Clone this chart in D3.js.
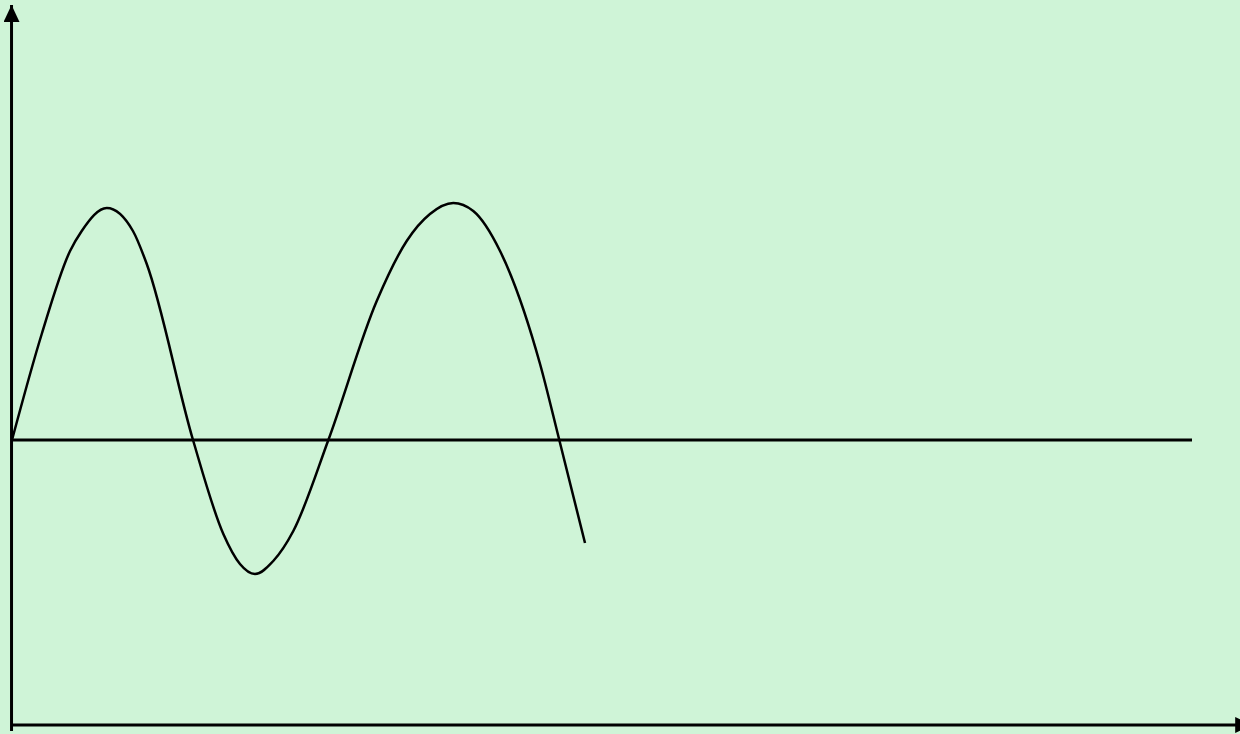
<!DOCTYPE html>
<html>
<head>
<meta charset="utf-8">
<script src="https://cdn.jsdelivr.net/npm/d3@7"></script>
<style>
  html, body { margin: 0; padding: 0; background: #cff4d7; }
  svg { display: block; }
</style>
</head>
<body>
<div id="chart"></div>
<script>
// curve samples (x along the baseline, y above/below it)
const waveX = [0, 2.52, 4.92, 5.91, 8.03, 10.25, 11.42, 15.34, 17.91, 19.32, 20.59, 22.14, 23.84, 26.81,
  30.91, 33.45, 35.42, 37.40, 39.09, 41.36, 44.75, 46.38, 48.56];
const waveY = [0, 1.06, 1.89, 2.09, 2.32, 2.09, 1.76, 0, -0.94, -1.24, -1.34, -1.21, -0.91, 0,
  1.39, 1.99, 2.26, 2.37, 2.29, 1.89, 0.76, 0, -1.03];

// extents of the axes and the zero line
const baselineX = [0, 100];
const xAxisExtent = [-0.04, 105.1];
const yAxisExtent = [-2.91, 4.35];

const width = 1240, height = 734;

let svg = d3.select('#chart').append('svg')
  .attr('width', width)
  .attr('height', height);

svg.append('rect')
  .attr('width', width)
  .attr('height', height)
  .attr('fill', '#cff4d7');

let x = d3.scaleLinear().domain([0, 100]).range([12, 1192]);
let y = d3.scaleLinear().domain([-2.85, 4.35]).range([725, 5]);

//arrow heads for the two axes
let defs = svg.append('defs');
defs.append('marker')
  .attr('id', 'arrow')
  .attr('viewBox', '0 0 17 16')
  .attr('refX', 17)
  .attr('refY', 8)
  .attr('markerWidth', 17)
  .attr('markerHeight', 16)
  .attr('markerUnits', 'userSpaceOnUse')
  .attr('orient', 'auto')
  .append('path')
    .attr('d', 'M0,0 L17,8 L0,16 Z')
    .attr('fill', '#000');

// y axis
svg.append('line')
  .attr('x1', x(-0.04)).attr('x2', x(-0.04))
  .attr('y1', y(yAxisExtent[0])).attr('y2', y(yAxisExtent[1]))
  .attr('stroke', '#000')
  .attr('stroke-width', 3)
  .attr('marker-end', 'url(#arrow)');

// x axis
svg.append('line')
  .attr('x1', x(xAxisExtent[0])).attr('x2', x(xAxisExtent[1]))
  .attr('y1', y(-2.85)).attr('y2', y(-2.85))
  .attr('stroke', '#000')
  .attr('stroke-width', 3)
  .attr('marker-end', 'url(#arrow)');

// zero line
svg.append('line')
  .attr('x1', x(baselineX[0])).attr('x2', x(baselineX[1]))
  .attr('y1', y(0)).attr('y2', y(0))
  .attr('stroke', '#000')
  .attr('stroke-width', 3);

// the wave
let pts = waveX.map((d, i) => [d, waveY[i]]);
let line = d3.line()
  .x(d => x(d[0]))
  .y(d => y(d[1]))
  .curve(d3.curveMonotoneX);

svg.append('path')
  .datum(pts)
  .attr('d', line)
  .attr('fill', 'none')
  .attr('stroke', '#000')
  .attr('stroke-width', 2.5)
  .attr('stroke-linejoin', 'round');
</script>
</body>
</html>
